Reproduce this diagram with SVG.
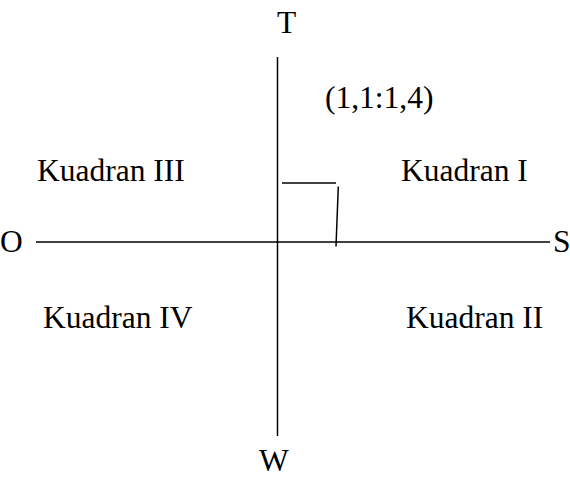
<svg xmlns="http://www.w3.org/2000/svg" width="570" height="477" viewBox="0 0 570 477">
  <style>
    text { font-family: "Liberation Serif", "Times New Roman", serif; font-size: 31.5px; fill: #000; }
    .ln { stroke: #000; stroke-width: 1.5; fill: none; }
  </style>
  <rect width="570" height="477" fill="#fff"/>
  <!-- axes and right-angle mark -->
  <g id="connectors">
    <line class="ln" x1="277.5" y1="57" x2="277.5" y2="436"/>
    <line class="ln" x1="36" y1="242" x2="550" y2="242"/>
    <line class="ln" x1="282" y1="183" x2="336" y2="183"/>
    <line class="ln" x1="338.3" y1="186.5" x2="336" y2="246.5"/>
  </g>
  <!-- direction labels -->
  <g id="label-T"><text x="277" y="33">T</text></g>
  <g id="label-O"><text x="0" y="252">O</text></g>
  <g id="label-S"><text x="553" y="252">S</text></g>
  <g id="label-W"><text x="259" y="471">W</text></g>
  <!-- ratio -->
  <g id="ratio"><text x="325" y="108">(1,1:1,4)</text></g>
  <!-- quadrant labels -->
  <g id="kuadran-3"><text x="37" y="181">Kuadran III</text></g>
  <g id="kuadran-1"><text x="401" y="181">Kuadran I</text></g>
  <g id="kuadran-4"><text x="43" y="328">Kuadran IV</text></g>
  <g id="kuadran-2"><text x="406" y="328">Kuadran II</text></g>
</svg>
